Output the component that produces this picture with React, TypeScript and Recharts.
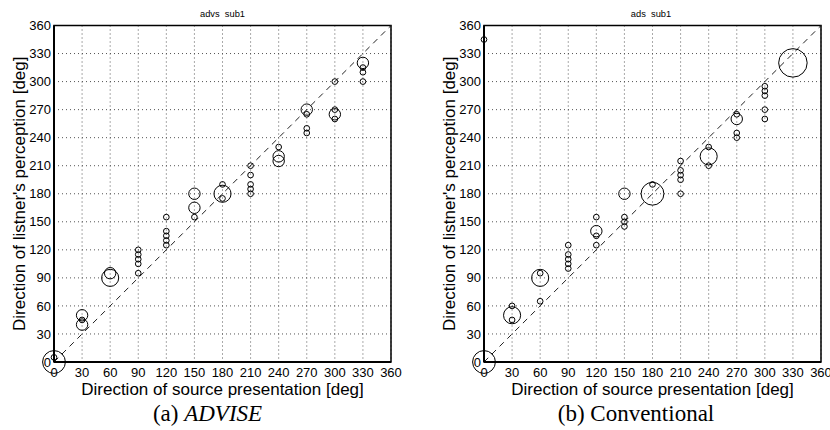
import { ScatterChart, Scatter, XAxis, YAxis, CartesianGrid, ReferenceLine, ReferenceArea } from 'recharts'

// source directions presented [deg]
const SOURCE_DIRS = [0, 30, 60, 90, 120, 150, 180, 210, 240, 270, 300, 330]
const TICKS = [0, 30, 60, 90, 120, 150, 180, 210, 240, 270, 300, 330, 360]

// perceived directions per source direction, and how many answers fell on each
const ADVISE_PERCEIVED = [
  [0, 5],
  [40, 45, 50],
  [90, 95],
  [95, 105, 110, 115, 120],
  [125, 130, 135, 140, 155],
  [155, 165, 180],
  [175, 180, 190],
  [180, 185, 190, 200, 210],
  [215, 220, 230],
  [245, 250, 265, 270],
  [260, 265, 270, 300],
  [300, 310, 315, 320],
]
const ADVISE_COUNTS = [
  [4, 1],
  [2, 1, 2],
  [3, 2],
  [1, 1, 1, 1, 1],
  [1, 1, 1, 1, 1],
  [1, 2, 2],
  [1, 3, 1],
  [1, 1, 1, 1, 1],
  [2, 2, 1],
  [1, 1, 1, 2],
  [1, 2, 1, 1],
  [1, 1, 1, 2],
]

const CONV_PERCEIVED = [
  [0, 345],
  [45, 50, 60],
  [65, 90, 95],
  [100, 105, 110, 115, 125],
  [125, 135, 140, 155],
  [145, 150, 155, 180],
  [180, 190],
  [180, 195, 200, 205, 215],
  [210, 220, 230],
  [240, 245, 260, 265],
  [260, 270, 285, 290, 295],
  [320],
]
const CONV_COUNTS = [
  [4, 1],
  [1, 3, 1],
  [1, 3, 1],
  [1, 1, 1, 1, 1],
  [1, 1, 2, 1],
  [1, 1, 1, 2],
  [4, 1],
  [1, 1, 1, 1, 1],
  [1, 3, 1],
  [1, 1, 2, 1],
  [1, 1, 1, 1, 1],
  [5],
]

const R_UNIT = 2.85
const FONT = '"Liberation Sans", Arial, sans-serif'

function toPoints(perceived: number[][], counts: number[][]) {
  return SOURCE_DIRS.flatMap((x, i) => perceived[i].map((y, j) => ({ x, y, n: counts[i][j] })))
}

const renderCircle = (props: any) => (
  <circle cx={props.cx} cy={props.cy} r={R_UNIT * props.payload.n} fill="none" stroke="#000" strokeWidth={1} />
)

interface PanelProps {
  data: { x: number; y: number; n: number }[]
  left: number
  width: number
}

function Panel({ data, left, width }: PanelProps) {
  return (
    <div style={{ position: 'absolute', left, top: 0 }}>
      <ScatterChart
        width={width}
        height={430}
        margin={{ top: 25.5, right: width - 391, bottom: 35, left: 0 }}
        style={{ fontFamily: FONT }}
      >
        <CartesianGrid stroke="#555" strokeDasharray="1 3" />
        <XAxis
          type="number"
          dataKey="x"
          domain={[0, 360]}
          ticks={TICKS}
          interval={0}
          height={33}
          axisLine={{ stroke: '#000', strokeWidth: 2 }}
          tickLine={false}
          tickSize={2}
          tickMargin={4}
          tick={{ fontSize: 13, fill: '#000' }}
          label={{ value: 'Direction of source presentation [deg]', position: 'insideBottom', offset: 0, style: { fontSize: 17, fill: '#000' } }}
        />
        <YAxis
          type="number"
          dataKey="y"
          domain={[0, 360]}
          ticks={TICKS}
          interval={0}
          width={54}
          axisLine={{ stroke: '#000', strokeWidth: 2 }}
          tickLine={false}
          tickSize={2}
          tickMargin={1}
          tick={{ fontSize: 13, fill: '#000' }}
          label={{
            value: "Direction of listner's perception [deg]",
            angle: -90,
            position: 'insideLeft',
            offset: 19,
            style: { textAnchor: 'middle', fontSize: 17, fill: '#000' },
          }}
        />
        <ReferenceArea x1={0} x2={360} y1={0} y2={360} fill="none" stroke="#000" strokeWidth={1.5} />
        <ReferenceLine segment={[{ x: 0, y: 0 }, { x: 360, y: 360 }]} stroke="#222" strokeDasharray="6 5" />
        <Scatter data={data} shape={renderCircle} isAnimationActive={false} />
      </ScatterChart>
    </div>
  )
}

export default function App() {
  return (
    <div style={{ position: 'absolute', left: 0, top: 0, width: 830, height: 430, background: '#fff' }}>
      <Panel data={toPoints(ADVISE_PERCEIVED, ADVISE_COUNTS)} left={0} width={415} />
      <Panel data={toPoints(CONV_PERCEIVED, CONV_COUNTS)} left={430} width={400} />
      <svg width={830} height={430} style={{ position: 'absolute', left: 0, top: 0, pointerEvents: 'none' }}>
        <text x={222.5} y={16.5} textAnchor="middle" fontSize={9.3} fontFamily={FONT} style={{ whiteSpace: 'pre' }}>
          advs  sub1
        </text>
        <text x={651} y={16.5} textAnchor="middle" fontSize={9.3} fontFamily={FONT} style={{ whiteSpace: 'pre' }}>
          ads  sub1
        </text>
        <text x={207.5} y={421} textAnchor="middle" fontSize={23} fontFamily='"Liberation Serif", "Times New Roman", serif'>
          (a) <tspan fontStyle="italic">ADVISE</tspan>
        </text>
        <text x={636} y={421} textAnchor="middle" fontSize={23} fontFamily='"Liberation Serif", "Times New Roman", serif'>
          (b) Conventional
        </text>
      </svg>
    </div>
  )
}
